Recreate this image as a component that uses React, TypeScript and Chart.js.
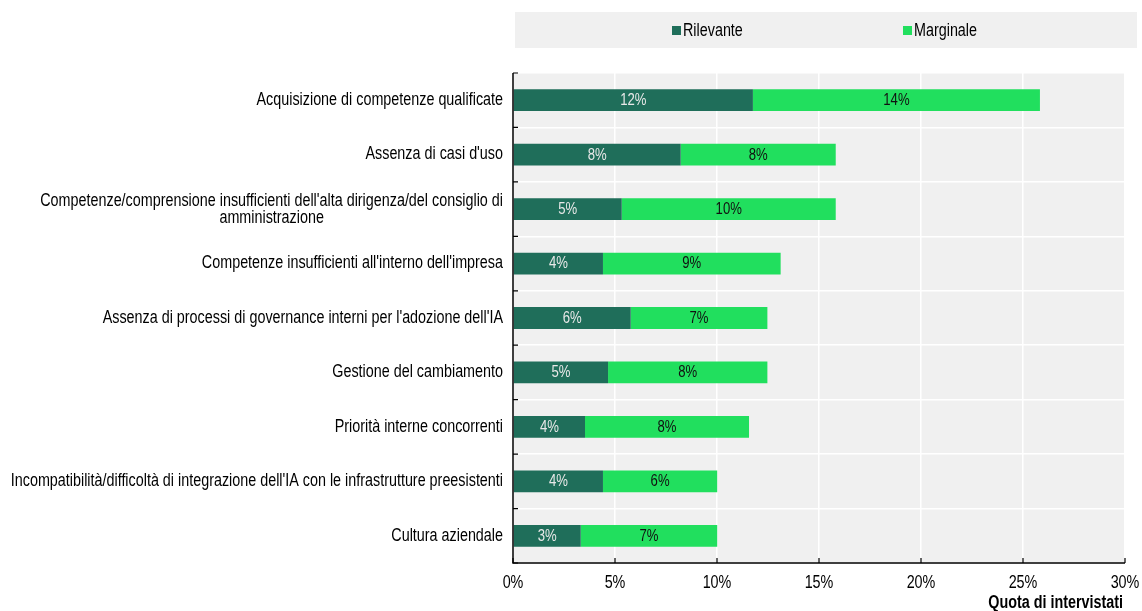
import React, { useEffect, useRef } from 'react';
import { Chart, registerables } from 'chart.js';

Chart.register(...registerables);

const categories: (string | string[])[] = [
  'Acquisizione di competenze qualificate',
  "Assenza di casi d'uso",
  ["Competenze/comprensione insufficienti dell'alta dirigenza/del consiglio di", 'amministrazione'],
  "Competenze insufficienti all'interno dell'impresa",
  "Assenza di processi di governance interni per l'adozione dell'IA",
  'Gestione del cambiamento',
  'Priorità interne concorrenti',
  "Incompatibilità/difficoltà di integrazione dell'IA con le infrastrutture preesistenti",
  'Cultura aziendale',
];

const seriesNames = ['Rilevante', 'Marginale'];
const rilevante = [11.76, 8.22, 5.33, 4.41, 5.77, 4.66, 3.53, 4.41, 3.32];
const marginale = [14.07, 7.6, 10.49, 8.71, 6.7, 7.81, 8.04, 5.6, 6.69];

const xMin = 0;
const xMax = 30;
const xStep = 5;
const axisTitle = 'Quota di intervistati';

const FONT = "'Liberation Sans', Arial, sans-serif";
const SX = 0.82; // horizontal condensation to mimic a narrow face
const DARK = '#1f6e5a';
const LIGHT = '#21df5e';
const BG = '#f0f0f0';

const W = 1142;
const H = 611;

function drawText(
  ctx: CanvasRenderingContext2D,
  text: string,
  x: number,
  y: number,
  align: CanvasTextAlign,
  font: string,
  color: string
) {
  ctx.save();
  ctx.font = font;
  ctx.fillStyle = color;
  ctx.textBaseline = 'middle';
  ctx.textAlign = align;
  ctx.translate(x, y);
  ctx.scale(SX, 1);
  ctx.fillText(text, 0, 0);
  ctx.restore();
}

function textWidth(ctx: CanvasRenderingContext2D, text: string, font: string) {
  ctx.save();
  ctx.font = font;
  const w = ctx.measureText(text).width * SX;
  ctx.restore();
  return w;
}

const customPlugin = {
  id: 'custom',
  beforeDraw(chart: any) {
    const { ctx, chartArea: a } = chart;
    ctx.save();
    ctx.fillStyle = BG;
    ctx.fillRect(a.left, a.top, a.right - a.left, a.bottom - a.top);
    // legend box
    ctx.fillRect(515, 12, 622, 36);
    ctx.restore();
  },
  afterDraw(chart: any) {
    const { ctx, chartArea: a, scales } = chart;
    const y = scales.y;
    const x = scales.x;
    ctx.save();
    // axes
    ctx.strokeStyle = '#000';
    ctx.lineWidth = 1.5;
    ctx.beginPath();
    ctx.moveTo(a.left, a.top);
    ctx.lineTo(a.left, a.bottom);
    ctx.lineTo(a.right, a.bottom);
    ctx.stroke();
    ctx.lineWidth = 1.2;
    const n = chart.data.labels.length;
    const step = (a.bottom - a.top) / n;
    ctx.beginPath();
    for (let i = 0; i <= n; i++) {
      const yy = a.top + i * step;
      ctx.moveTo(a.left, yy);
      ctx.lineTo(a.left + 5, yy);
    }
    for (let v = xMin; v <= xMax; v += xStep) {
      const xx = x.getPixelForValue(v);
      ctx.moveTo(xx, a.bottom);
      ctx.lineTo(xx, a.bottom - 5);
    }
    ctx.stroke();
    ctx.restore();

    const labFont = `17.5px ${FONT}`;
    // x tick labels
    for (let v = xMin; v <= xMax; v += xStep) {
      drawText(ctx, `${v}%`, x.getPixelForValue(v), a.bottom + 20, 'center', labFont, '#000');
    }
    // axis title
    drawText(ctx, axisTitle, a.right - 2, a.bottom + 40, 'right', `bold 17.5px ${FONT}`, '#000');

    // category labels
    const labels = chart.data.labels;
    labels.forEach((lab: any, i: number) => {
      const cy = y.getPixelForValue(i);
      const right = a.left - 10;
      if (Array.isArray(lab)) {
        const widths = lab.map((l: string) => textWidth(ctx, l, labFont));
        const maxW = Math.max(...widths);
        const cx = right - maxW / 2;
        const lh = 17.5;
        lab.forEach((l: string, j: number) => {
          drawText(ctx, l, cx, cy + 0.5 + (j - (lab.length - 1) / 2) * lh, 'center', labFont, '#000');
        });
      } else {
        drawText(ctx, lab, right, cy, 'right', labFont, '#000');
      }
    });

    // data labels
    chart.data.datasets.forEach((ds: any, di: number) => {
      const meta = chart.getDatasetMeta(di);
      const col = di === 0 ? '#e8e8e8' : '#111';
      meta.data.forEach((el: any, i: number) => {
        const v = ds.data[i];
        const cx = (el.x + el.base) / 2;
        drawText(ctx, `${Math.round(v)}%`, cx, el.y + 0.5, 'center', `16px ${FONT}`, col);
      });
    });

    // legend
    const items = [
      { x: 672, color: DARK, text: seriesNames[0] },
      { x: 903, color: LIGHT, text: seriesNames[1] },
    ];
    items.forEach((it) => {
      ctx.save();
      ctx.fillStyle = it.color;
      ctx.fillRect(it.x, 26, 9, 9);
      ctx.restore();
      drawText(ctx, it.text, it.x + 11, 31, 'left', labFont, '#000');
    });
  },
};

export default function App() {
  const ref = useRef<HTMLCanvasElement | null>(null);
  useEffect(() => {
    document.body.style.margin = '0';
    if (!ref.current) return;
    const chart = new Chart(ref.current, {
      type: 'bar',
      data: {
        labels: categories as any,
        datasets: [
          {
            label: seriesNames[0],
            data: rilevante,
            backgroundColor: DARK,
            barPercentage: 0.4,
            categoryPercentage: 1,
            stack: 's',
          },
          {
            label: seriesNames[1],
            data: marginale,
            backgroundColor: LIGHT,
            barPercentage: 0.4,
            categoryPercentage: 1,
            stack: 's',
          },
        ],
      },
      options: {
        indexAxis: 'y',
        responsive: false,
        animation: false,
        layout: { padding: { top: 73, right: 17, left: 0, bottom: 0 } },
        plugins: { legend: { display: false }, tooltip: { enabled: false } },
        scales: {
          x: {
            stacked: true,
            min: xMin,
            max: xMax,
            ticks: { stepSize: xStep, display: false },
            grid: { color: '#ffffff', lineWidth: 1.5, drawTicks: false },
            border: { display: false },
            afterFit: (s: any) => {
              s.height = 48;
            },
          },
          y: {
            stacked: true,
            ticks: { display: false },
            grid: { color: '#ffffff', lineWidth: 1.5, drawTicks: false, offset: true },
            border: { display: false },
            afterFit: (s: any) => {
              s.width = 513;
            },
          },
        },
      } as any,
      plugins: [customPlugin],
    });
    return () => chart.destroy();
  }, []);
  return <canvas ref={ref} width={W} height={H} style={{ display: 'block', width: W, height: H }} />;
}
